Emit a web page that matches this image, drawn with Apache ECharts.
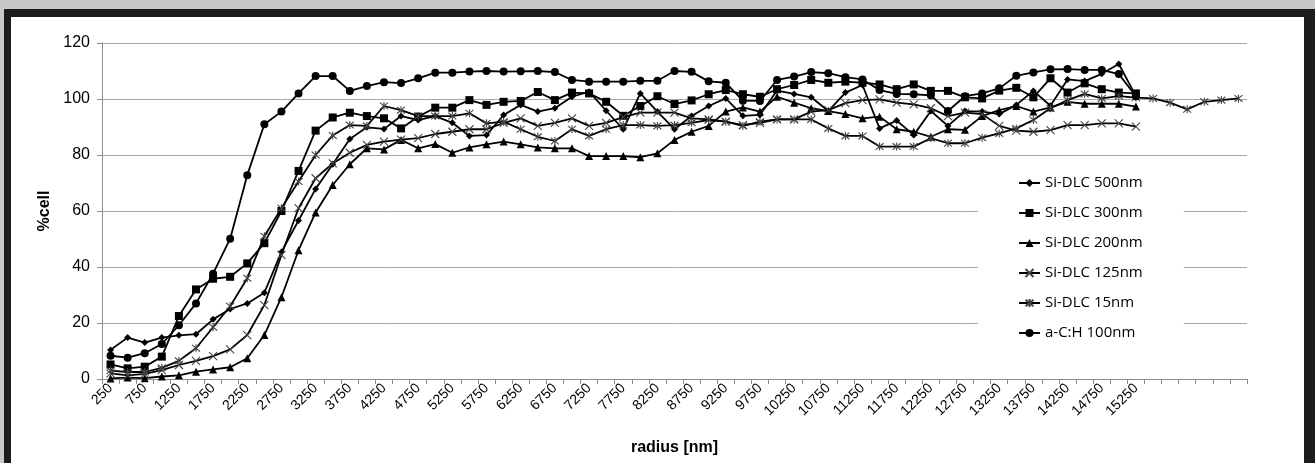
<!DOCTYPE html>
<html>
<head>
<meta charset="utf-8">
<script src="https://cdn.jsdelivr.net/npm/echarts@6/dist/echarts.min.js"></script>
<style>
  html, body { margin: 0; padding: 0; width: 1315px; height: 463px; overflow: hidden; background: #c8c8c8; }
  #frame { position: absolute; left: 4px; top: 9px; width: 1293px; height: 470px; background: #fff;
           border-style: solid; border-color: #1c1c1c; border-width: 8px 11px 0 7px; }
  #chart { position: absolute; left: 0; top: 0; width: 1315px; height: 463px; }
</style>
</head>
<body>
<div id="frame"></div>
<div id="chart"></div>
<script>
// ---- data ----
const radiusLabels = [250,500,750,1000,1250,1500,1750,2000,2250,2500,2750,3000,3250,3500,3750,4000,4250,4500,4750,5000,
  5250,5500,5750,6000,6250,6500,6750,7000,7250,7500,7750,8000,8250,8500,8750,9000,9250,9500,9750,10000,
  10250,10500,10750,11000,11250,11500,11750,12000,12250,12500,12750,13000,13250,13500,13750,14000,14250,14500,14750,15000,
  15250,15500,'','','','',''];

const siDlc500 = [10.4,14.8,13,14.8,15.6,16,21.3,25,27,30.8,45.4,56.6,67.9,76.7,85.7,89.9,89.3,93.9,92.5,93.9,
  91.5,86.8,87.1,94.3,97.9,95.5,96.7,100.8,102.6,95.8,89.2,102,95.5,89.2,93.9,97.5,100.2,94,94.3,103,
  101.8,100.6,95.7,102.3,105,89.5,92.3,87.1,95.7,90.4,95.7,95.5,94.6,97.9,102.9,97.6,107,106.4,109,112.5,101];

const siDlc300 = [5.2,3.8,4.4,8,22.5,32,35.8,36.5,41.3,48.5,60,74.3,88.7,93.4,95.1,93.9,93.1,89.5,93.7,96.9,
  96.9,99.6,97.9,99,99.3,102.5,99.6,102.3,102,99,94,97.5,101,98.2,99.5,101.7,103.2,101.7,100.8,103.5,
  105,106.8,105.8,106.2,105.8,105.2,103.5,105.2,102.9,102.9,100.6,100.2,103,104,100.6,107.4,102.3,105.6,103.5,102.3,102];

const siDlc200 = [0.2,0.5,0.3,0.9,1.3,2.6,3.4,4.2,7.4,15.7,29.2,46,59.5,69.3,76.7,82.4,82,85.4,82.4,83.9,
  80.8,82.7,83.8,84.8,83.8,82.7,82.4,82.4,79.6,79.6,79.6,79.2,80.6,85.4,88.3,90.4,95.5,97,95.5,100.8,
  98.7,96.7,95.7,94.6,93.1,93.7,89.2,88.3,86.5,89.2,89,93.9,96,97.5,95.5,97,99,98.3,98.3,98.3,97.3];

const siDlc125 = [2,1.3,1.8,3.2,5,6.5,8.2,10.6,15.7,26.4,44.3,61,71.7,77,80.8,83.6,84.8,85.5,86,87.5,
  88.3,89.2,89.2,91.5,93.1,90.4,91.5,93.1,90.4,91.5,93.5,95.1,95.1,95.1,93.1,92.7,91.9,90.7,91.5,92.7,
  92.7,95.5,96,98.5,99.6,99.9,98.7,98.1,96.7,93.9,95.1,94.6,90.4,88.7,88.3,88.9,90.7,90.7,91.3,91.3,90.1];

const siDlc15 = [3,2.5,2.5,4,6.5,11,18.5,26,36,51,61,70.5,80,87,90.7,90.4,97.5,96,93.9,93.9,
  93.9,94.9,91.3,91.9,89.2,86.5,85,89.2,86.8,89.2,90.7,90.7,90.4,90.7,91.5,92.5,91.9,90.4,91.9,92.7,
  92.7,92.7,89.5,86.8,86.8,83,83,83,86,84.2,84.2,86.2,87.7,89.5,92.5,96.7,99.6,101.8,100.2,101,
  100.5,100.2,98.7,96.3,99,99.6,100.2];

const acH100 = [8.3,7.6,9.2,12.5,19.2,27,37.6,50.1,72.8,91,95.5,102,108.2,108.2,102.9,104.6,106,105.7,107.4,109.4,
  109.4,109.8,110,109.8,109.9,110,109.6,106.8,106.2,106.2,106.2,106.5,106.5,110,109.7,106.3,105.8,99.4,99.3,106.8,
  108,109.6,109.2,107.8,107,103.2,101.8,101.7,101.3,95.7,101,102,103.8,108.3,109.5,110.6,110.7,110.4,110.4,108.9,101];

const seriesNames = ['Si-DLC 500nm','Si-DLC 300nm','Si-DLC 200nm','Si-DLC 125nm','Si-DLC 15nm','a-C:H 100nm'];
const yTicks = { min: 0, max: 120, interval: 20 };

// ---- chart ----
const chart = echarts.init(document.getElementById('chart'), null, { renderer: 'canvas' });
const CROSS = 'path://M0,0L10,10M0,10L10,0';
const STAR = 'path://M0,0L10,10M0,10L10,0M5,-1L5,11';

function mk(name, data, symbol, size, hollow) {
  return {
    name: name, type: 'line', data: data,
    symbol: symbol, symbolSize: size, showAllSymbol: true,
    connectNulls: false,
    lineStyle: { color: '#000', width: 1.8 },
    itemStyle: hollow ? { color: 'rgba(0,0,0,0)', borderColor: '#444', borderWidth: 1.1 }
                      : { color: '#000', borderColor: '#000', borderWidth: 0 },
    emphasis: { disabled: true },
    animation: false
  };
}

chart.setOption({
  backgroundColor: 'transparent',
  animation: false,
  textStyle: { fontFamily: 'Liberation Sans, Arial, sans-serif' },
  grid: { left: 102, right: 68, top: 43, bottom: 84, containLabel: false },
  legend: {
    orient: 'vertical', left: 978, top: 160,
    padding: [15, 41, 5, 40],
    backgroundColor: '#fff',
    itemWidth: 21, itemHeight: 10, itemGap: 14,
    textStyle: { fontFamily: 'Open Sans', fontSize: 15, color: '#000', lineHeight: 16 },
    data: seriesNames
  },
  xAxis: {
    type: 'category', data: radiusLabels, boundaryGap: true,
    name: 'radius [nm]', nameLocation: 'middle', nameGap: 61,
    nameTextStyle: { fontWeight: 'bold', fontSize: 16, color: '#000', fontFamily: 'Liberation Sans' },
    axisLine: { lineStyle: { color: '#8c8c8c', width: 1 } },
    axisTick: { show: true, interval: 0, length: 5, lineStyle: { color: '#8c8c8c' } },
    axisLabel: { interval: 1, rotate: 45, fontSize: 14, color: '#000', margin: 7, fontFamily: 'Liberation Sans' },
    splitLine: { show: false }
  },
  yAxis: {
    type: 'value', min: yTicks.min, max: yTicks.max, interval: yTicks.interval,
    name: '%cell', nameLocation: 'middle', nameGap: 47, nameRotate: 90,
    nameTextStyle: { fontWeight: 'bold', fontSize: 16, color: '#000', fontFamily: 'Liberation Sans' },
    axisLine: { show: true, lineStyle: { color: '#8c8c8c', width: 1 } },
    axisTick: { show: true, length: 5, lineStyle: { color: '#8c8c8c' } },
    axisLabel: { fontSize: 16, color: '#000', margin: 12, fontFamily: 'Liberation Sans' },
    splitLine: { show: true, lineStyle: { color: '#a8a8a8', width: 1 } }
  },
  series: [
    mk(seriesNames[0], siDlc500, 'diamond', 7, false),
    mk(seriesNames[1], siDlc300, 'rect', 8, false),
    mk(seriesNames[2], siDlc200, 'triangle', 8, false),
    mk(seriesNames[3], siDlc125, CROSS, 8, true),
    mk(seriesNames[4], siDlc15, STAR, 8, true),
    mk(seriesNames[5], acH100, 'circle', 8, false)
  ]
});
</script>
</body>
</html>
